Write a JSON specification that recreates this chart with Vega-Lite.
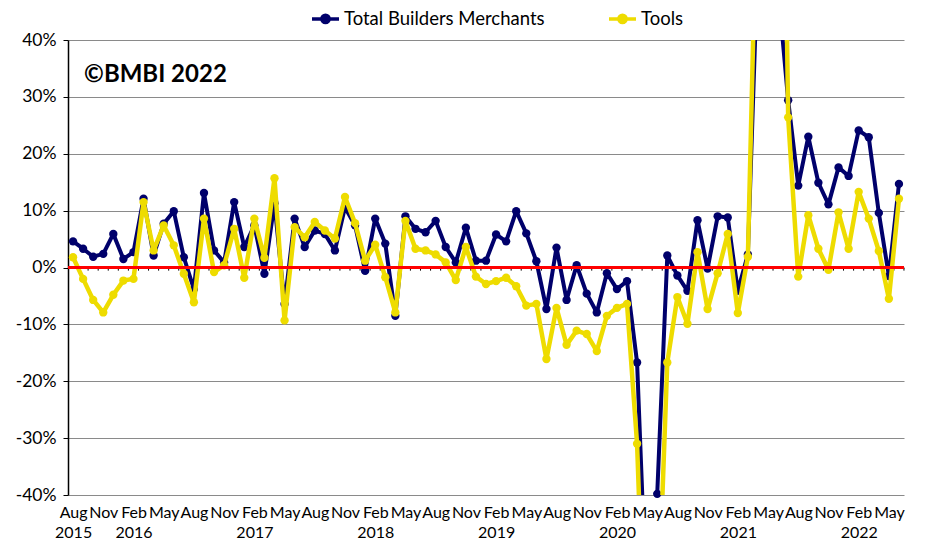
{
  "$schema": "https://vega.github.io/schema/vega-lite/v6.json",
  "width": 836,
  "height": 455,
  "autosize": {"type": "none"},
  "padding": {"left": 68, "top": 40, "right": 27, "bottom": 47},
  "background": "#ffffff",
  "config": {"font": "Lato", "view": {"stroke": null}},
  "data": {"values": [
    {"m":"2015-07","s":"Total Builders Merchants","v":4.6},{"m":"2015-08","s":"Total Builders Merchants","v":3.3},{"m":"2015-09","s":"Total Builders Merchants","v":1.9},{"m":"2015-10","s":"Total Builders Merchants","v":2.4},{"m":"2015-11","s":"Total Builders Merchants","v":5.9},{"m":"2015-12","s":"Total Builders Merchants","v":1.5},
    {"m":"2016-01","s":"Total Builders Merchants","v":2.7},{"m":"2016-02","s":"Total Builders Merchants","v":12.1},{"m":"2016-03","s":"Total Builders Merchants","v":2.1},{"m":"2016-04","s":"Total Builders Merchants","v":7.7},{"m":"2016-05","s":"Total Builders Merchants","v":9.9},{"m":"2016-06","s":"Total Builders Merchants","v":1.8},
    {"m":"2016-07","s":"Total Builders Merchants","v":-3.8},{"m":"2016-08","s":"Total Builders Merchants","v":13.1},{"m":"2016-09","s":"Total Builders Merchants","v":3.0},{"m":"2016-10","s":"Total Builders Merchants","v":0.9},{"m":"2016-11","s":"Total Builders Merchants","v":11.5},{"m":"2016-12","s":"Total Builders Merchants","v":3.6},
    {"m":"2017-01","s":"Total Builders Merchants","v":7.4},{"m":"2017-02","s":"Total Builders Merchants","v":-1.1},{"m":"2017-03","s":"Total Builders Merchants","v":11.3},{"m":"2017-04","s":"Total Builders Merchants","v":-6.4},{"m":"2017-05","s":"Total Builders Merchants","v":8.6},{"m":"2017-06","s":"Total Builders Merchants","v":3.6},
    {"m":"2017-07","s":"Total Builders Merchants","v":6.5},{"m":"2017-08","s":"Total Builders Merchants","v":5.9},{"m":"2017-09","s":"Total Builders Merchants","v":3.0},{"m":"2017-10","s":"Total Builders Merchants","v":10.6},{"m":"2017-11","s":"Total Builders Merchants","v":7.4},{"m":"2017-12","s":"Total Builders Merchants","v":-0.6},
    {"m":"2018-01","s":"Total Builders Merchants","v":8.6},{"m":"2018-02","s":"Total Builders Merchants","v":4.2},{"m":"2018-03","s":"Total Builders Merchants","v":-8.5},{"m":"2018-04","s":"Total Builders Merchants","v":9.0},{"m":"2018-05","s":"Total Builders Merchants","v":6.8},{"m":"2018-06","s":"Total Builders Merchants","v":6.2},
    {"m":"2018-07","s":"Total Builders Merchants","v":8.2},{"m":"2018-08","s":"Total Builders Merchants","v":3.6},{"m":"2018-09","s":"Total Builders Merchants","v":0.9},{"m":"2018-10","s":"Total Builders Merchants","v":7.0},{"m":"2018-11","s":"Total Builders Merchants","v":1.2},{"m":"2018-12","s":"Total Builders Merchants","v":1.2},
    {"m":"2019-01","s":"Total Builders Merchants","v":5.8},{"m":"2019-02","s":"Total Builders Merchants","v":4.6},{"m":"2019-03","s":"Total Builders Merchants","v":9.9},{"m":"2019-04","s":"Total Builders Merchants","v":6.0},{"m":"2019-05","s":"Total Builders Merchants","v":1.1},{"m":"2019-06","s":"Total Builders Merchants","v":-7.3},
    {"m":"2019-07","s":"Total Builders Merchants","v":3.5},{"m":"2019-08","s":"Total Builders Merchants","v":-5.7},{"m":"2019-09","s":"Total Builders Merchants","v":0.4},{"m":"2019-10","s":"Total Builders Merchants","v":-4.6},{"m":"2019-11","s":"Total Builders Merchants","v":-7.9},{"m":"2019-12","s":"Total Builders Merchants","v":-1.0},
    {"m":"2020-01","s":"Total Builders Merchants","v":-3.8},{"m":"2020-02","s":"Total Builders Merchants","v":-2.4},{"m":"2020-03","s":"Total Builders Merchants","v":-16.7},{"m":"2020-04","s":"Total Builders Merchants","v":-62},{"m":"2020-05","s":"Total Builders Merchants","v":-39.8},{"m":"2020-06","s":"Total Builders Merchants","v":2.1},
    {"m":"2020-07","s":"Total Builders Merchants","v":-1.4},{"m":"2020-08","s":"Total Builders Merchants","v":-4.1},{"m":"2020-09","s":"Total Builders Merchants","v":8.3},{"m":"2020-10","s":"Total Builders Merchants","v":-0.2},{"m":"2020-11","s":"Total Builders Merchants","v":9.0},{"m":"2020-12","s":"Total Builders Merchants","v":8.8},
    {"m":"2021-01","s":"Total Builders Merchants","v":-4.1},{"m":"2021-02","s":"Total Builders Merchants","v":2.3},{"m":"2021-03","s":"Total Builders Merchants","v":55},{"m":"2021-04","s":"Total Builders Merchants","v":85},{"m":"2021-05","s":"Total Builders Merchants","v":49},{"m":"2021-06","s":"Total Builders Merchants","v":29.4},
    {"m":"2021-07","s":"Total Builders Merchants","v":14.4},{"m":"2021-08","s":"Total Builders Merchants","v":23.0},{"m":"2021-09","s":"Total Builders Merchants","v":14.9},{"m":"2021-10","s":"Total Builders Merchants","v":11.1},{"m":"2021-11","s":"Total Builders Merchants","v":17.6},{"m":"2021-12","s":"Total Builders Merchants","v":16.1},
    {"m":"2022-01","s":"Total Builders Merchants","v":24.1},{"m":"2022-02","s":"Total Builders Merchants","v":22.9},{"m":"2022-03","s":"Total Builders Merchants","v":9.6},{"m":"2022-04","s":"Total Builders Merchants","v":-1.5},{"m":"2022-05","s":"Total Builders Merchants","v":14.7},
    {"m":"2015-07","s":"Tools","v":1.8},{"m":"2015-08","s":"Tools","v":-2.0},{"m":"2015-09","s":"Tools","v":-5.7},{"m":"2015-10","s":"Tools","v":-7.9},{"m":"2015-11","s":"Tools","v":-4.8},{"m":"2015-12","s":"Tools","v":-2.3},
    {"m":"2016-01","s":"Tools","v":-2.0},{"m":"2016-02","s":"Tools","v":11.5},{"m":"2016-03","s":"Tools","v":3.0},{"m":"2016-04","s":"Tools","v":7.4},{"m":"2016-05","s":"Tools","v":3.9},{"m":"2016-06","s":"Tools","v":-1.1},
    {"m":"2016-07","s":"Tools","v":-6.1},{"m":"2016-08","s":"Tools","v":8.6},{"m":"2016-09","s":"Tools","v":-0.8},{"m":"2016-10","s":"Tools","v":0.4},{"m":"2016-11","s":"Tools","v":6.8},{"m":"2016-12","s":"Tools","v":-1.8},
    {"m":"2017-01","s":"Tools","v":8.6},{"m":"2017-02","s":"Tools","v":1.7},{"m":"2017-03","s":"Tools","v":15.7},{"m":"2017-04","s":"Tools","v":-9.3},{"m":"2017-05","s":"Tools","v":7.1},{"m":"2017-06","s":"Tools","v":5.3},
    {"m":"2017-07","s":"Tools","v":8.0},{"m":"2017-08","s":"Tools","v":6.5},{"m":"2017-09","s":"Tools","v":5.1},{"m":"2017-10","s":"Tools","v":12.4},{"m":"2017-11","s":"Tools","v":7.8},{"m":"2017-12","s":"Tools","v":1.2},
    {"m":"2018-01","s":"Tools","v":4.0},{"m":"2018-02","s":"Tools","v":-1.7},{"m":"2018-03","s":"Tools","v":-7.9},{"m":"2018-04","s":"Tools","v":8.2},{"m":"2018-05","s":"Tools","v":3.3},{"m":"2018-06","s":"Tools","v":3.0},
    {"m":"2018-07","s":"Tools","v":2.3},{"m":"2018-08","s":"Tools","v":0.9},{"m":"2018-09","s":"Tools","v":-2.2},{"m":"2018-10","s":"Tools","v":3.6},{"m":"2018-11","s":"Tools","v":-1.6},{"m":"2018-12","s":"Tools","v":-2.9},
    {"m":"2019-01","s":"Tools","v":-2.4},{"m":"2019-02","s":"Tools","v":-1.8},{"m":"2019-03","s":"Tools","v":-3.3},{"m":"2019-04","s":"Tools","v":-6.7},{"m":"2019-05","s":"Tools","v":-6.4},{"m":"2019-06","s":"Tools","v":-16.1},
    {"m":"2019-07","s":"Tools","v":-7.1},{"m":"2019-08","s":"Tools","v":-13.6},{"m":"2019-09","s":"Tools","v":-11.1},{"m":"2019-10","s":"Tools","v":-11.7},{"m":"2019-11","s":"Tools","v":-14.7},{"m":"2019-12","s":"Tools","v":-8.5},
    {"m":"2020-01","s":"Tools","v":-7.1},{"m":"2020-02","s":"Tools","v":-6.4},{"m":"2020-03","s":"Tools","v":-31.0},{"m":"2020-04","s":"Tools","v":-81},{"m":"2020-05","s":"Tools","v":-65},{"m":"2020-06","s":"Tools","v":-16.7},
    {"m":"2020-07","s":"Tools","v":-5.2},{"m":"2020-08","s":"Tools","v":-9.9},{"m":"2020-09","s":"Tools","v":2.7},{"m":"2020-10","s":"Tools","v":-7.3},{"m":"2020-11","s":"Tools","v":-1.0},{"m":"2020-12","s":"Tools","v":5.9},
    {"m":"2021-01","s":"Tools","v":-8.0},{"m":"2021-02","s":"Tools","v":1.9},{"m":"2021-03","s":"Tools","v":75},{"m":"2021-04","s":"Tools","v":140},{"m":"2021-05","s":"Tools","v":150},{"m":"2021-06","s":"Tools","v":26.4},
    {"m":"2021-07","s":"Tools","v":-1.6},{"m":"2021-08","s":"Tools","v":9.2},{"m":"2021-09","s":"Tools","v":3.3},{"m":"2021-10","s":"Tools","v":-0.4},{"m":"2021-11","s":"Tools","v":9.7},{"m":"2021-12","s":"Tools","v":3.3},
    {"m":"2022-01","s":"Tools","v":13.3},{"m":"2022-02","s":"Tools","v":8.6},{"m":"2022-03","s":"Tools","v":2.9},{"m":"2022-04","s":"Tools","v":-5.5},{"m":"2022-05","s":"Tools","v":12.1}
  ]},
  "encoding": {
    "x": {
      "field": "m", "type": "ordinal",
      "scale": {"type": "point", "padding": 0.5},
      "axis": {
        "title": null, "domain": false, "ticks": false, "grid": false,
        "labelAngle": 0, "labelFontSize": 16, "labelColor": "#000000",
        "labelPadding": 9, "labelLineHeight": 20, "labelOffset": -10,
        "labelBaseline": "top",
        "values": ["2015-08","2015-11","2016-02","2016-05","2016-08","2016-11","2017-02","2017-05","2017-08","2017-11","2018-02","2018-05","2018-08","2018-11","2019-02","2019-05","2019-08","2019-11","2020-02","2020-05","2020-08","2020-11","2021-02","2021-05","2021-08","2021-11","2022-02","2022-05"],
        "labelExpr": "[substring(datum.value,5,7)=='02' ? 'Feb' : substring(datum.value,5,7)=='05' ? 'May' : substring(datum.value,5,7)=='08' ? 'Aug' : 'Nov', (substring(datum.value,5,7)=='02' || datum.value=='2015-08') ? substring(datum.value,0,4) : '']"
      }
    },
    "y": {
      "field": "v", "type": "quantitative",
      "scale": {"domain": [-40, 40], "nice": false, "zero": false},
      "axis": {
        "title": null, "values": [-40,-30,-20,-10,0,10,20,30,40],
        "labelExpr": "(datum.value < 0 ? '-' : '') + abs(round(datum.value)) + '%'",
        "labelFontSize": 17.5, "labelColor": "#000000", "labelPadding": 7,
        "tickSize": 5, "tickColor": "#000000", "tickWidth": 1,
        "domainColor": "#000000", "domainWidth": 1.5,
        "gridColor": "#8a8a8a", "gridWidth": 1
      }
    }
  },
  "layer": [
    {
      "transform": [{"filter": "datum.s == 'Tools'"}],
      "mark": {"type": "rule", "color": "#000000", "strokeWidth": 1, "xOffset": 5},
      "encoding": {"y": {"datum": 0}, "y2": {"datum": -0.55}}
    },
    {
      "transform": [{"filter": "datum.s == 'Total Builders Merchants'"}],
      "mark": {"type": "line", "clip": true, "strokeWidth": 4, "strokeJoin": "round"},
      "encoding": {"color": {"field": "s", "type": "nominal",
        "scale": {"domain": ["Total Builders Merchants", "Tools"], "range": ["#00006b", "#eedc00"]},
        "legend": {"title": null, "orient": "none", "legendX": 242, "legendY": -37, "direction": "horizontal",
          "symbolType": "M-1,0H1M0.27,0A0.27,0.27,0,1,1,-0.27,0A0.27,0.27,0,1,1,0.27,0Z",
          "symbolSize": 729, "symbolStrokeWidth": 3.5, "labelFontSize": 18.5, "labelColor": "#000000",
          "labelOffset": 3, "labelLimit": 400, "columnPadding": 57}}}
    },
    {
      "transform": [{"filter": "datum.s == 'Total Builders Merchants' && datum.v >= -41 && datum.v <= 41"}],
      "mark": {"type": "point", "filled": true, "opacity": 1, "size": 70},
      "encoding": {"color": {"field": "s", "type": "nominal"}}
    },
    {
      "transform": [{"filter": "datum.s == 'Tools'"}],
      "mark": {"type": "line", "clip": true, "strokeWidth": 4.5, "strokeJoin": "round"},
      "encoding": {"color": {"field": "s", "type": "nominal"}}
    },
    {
      "transform": [{"filter": "datum.s == 'Tools' && datum.v >= -41 && datum.v <= 41"}],
      "mark": {"type": "point", "filled": true, "opacity": 1, "size": 70},
      "encoding": {"color": {"field": "s", "type": "nominal"}}
    },
    {
      "mark": {"type": "rule", "color": "#ff0000", "strokeWidth": 3},
      "encoding": {"x": null, "y": {"datum": 0}}
    },
    {
      "transform": [{"filter": "datum.s == 'Tools' && datum.m == '2015-08'"}],
      "mark": {"type": "text", "align": "left", "baseline": "alphabetic", "fontSize": 24, "fontWeight": "bold", "fill": "#000000", "dx": 1},
      "encoding": {"y": {"datum": 32.7}, "text": {"value": "©BMBI 2022"}}
    }
  ]
}
